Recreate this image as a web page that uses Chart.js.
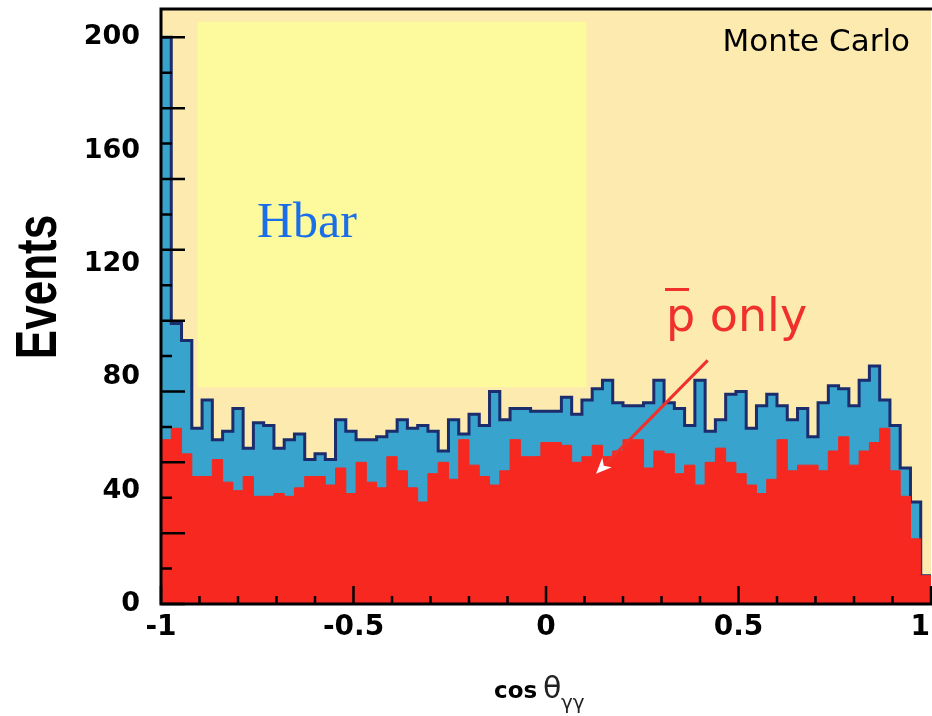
<!DOCTYPE html>
<html>
<head>
<meta charset="utf-8">
<script src="https://cdn.jsdelivr.net/npm/chart.js@4.4.1/dist/chart.umd.min.js"></script>
<style>
  html, body { margin: 0; padding: 0; background: #fff; }
  #wrap { width: 932px; height: 716px; }
</style>
</head>
<body>
<div id="wrap"><canvas id="histo" width="932" height="716"></canvas></div>
<script>
// cos(theta_gg) histogram binning
const binLow = -1;
const binHigh = 1;
const nBins = 75;

// all events (blue histogram with outline)
const allEvents = [
  200, 99, 93, 62, 72, 58, 61, 69, 55, 64,
  63, 55, 58, 60, 51, 53, 51, 65, 61, 58,
  58, 59, 61, 65, 62, 63, 61, 54, 65, 60,
  67, 63, 75, 65, 69, 69, 68, 68, 68, 73,
  67, 72, 76, 79, 71, 70, 70, 71, 79, 71,
  69, 63, 79, 61, 65, 74, 75, 62, 70, 74,
  70, 65, 69, 59, 71, 77, 76, 70, 79, 84,
  72, 63, 48, 36, 10
];

// pbar only (red histogram)
const pbarOnly = [
  58, 62, 53, 45, 45, 51, 43, 40, 45, 38,
  38, 39, 38, 41, 45, 45, 42, 48, 39, 50,
  43, 41, 52, 47, 41, 36, 46, 50, 44, 58,
  49, 45, 42, 47, 58, 52, 52, 57, 57, 56,
  50, 52, 56, 52, 54, 58, 58, 48, 54, 53,
  46, 49, 42, 50, 55, 50, 46, 42, 39, 44,
  58, 47, 49, 49, 47, 54, 59, 49, 54, 57,
  62, 47, 38, 23, 10
];

const xTicks = [-1, -0.5, 0, 0.5, 1];
const xTickLabels = ['-1', '-0.5', '0', '0.5', '1'];

// turn bin contents into step points (left edges + closing right edge)
function stepPoints(values) {
  const w = (binHigh - binLow) / nBins;
  const pts = values.map((v, i) => ({ x: binLow + i * w, y: v }));
  pts.push({ x: binHigh, y: values[values.length - 1] });
  return pts;
}

const decor = {
  id: 'decor',
  beforeDraw(chart) {
    const { ctx, chartArea: a, scales: { x, y } } = chart;
    ctx.save();
    ctx.fillStyle = '#fceaae';
    ctx.fillRect(a.left, a.top, a.right - a.left, a.bottom - a.top);
    // pale yellow Hbar box
    const bx0 = x.getPixelForValue(-0.905);
    const bx1 = x.getPixelForValue(0.105);
    const by0 = y.getPixelForValue(205.5);
    const by1 = y.getPixelForValue(76.5);
    ctx.fillStyle = '#fcfa9c';
    ctx.fillRect(bx0, by0, bx1 - bx0, by1 - by0);
    ctx.restore();
  },
  afterDraw(chart) {
    const { ctx, chartArea: a, scales: { x, y } } = chart;
    ctx.save();

    // inward tick marks
    ctx.strokeStyle = '#000';
    ctx.lineWidth = 2.5;
    ctx.beginPath();
    for (let k = 0; k <= 16; k++) {
      const py = y.getPixelForValue(k * 12.5);
      const len = k % 2 === 0 ? 24 : 11;
      ctx.moveTo(a.left, py);
      ctx.lineTo(a.left + len, py);
    }
    for (let k = -10; k <= 10; k++) {
      const px = x.getPixelForValue(k / 10);
      const len = k % 5 === 0 ? 18 : 8;
      ctx.moveTo(px, a.bottom);
      ctx.lineTo(px, a.bottom - len);
    }
    ctx.stroke();

    // frame
    ctx.lineWidth = 3;
    ctx.beginPath();
    ctx.moveTo(a.right + 2, a.top);
    ctx.lineTo(a.left, a.top);
    ctx.lineTo(a.left, a.bottom);
    ctx.lineTo(a.right + 2, a.bottom);
    ctx.stroke();

    // x tick labels
    ctx.fillStyle = '#000';
    ctx.font = 'bold 28px "DejaVu Sans"';
    ctx.textAlign = 'center';
    ctx.textBaseline = 'middle';
    xTicks.forEach((v, i) => {
      const w = ctx.measureText(xTickLabels[i]).width;
      const px = Math.min(x.getPixelForValue(v), chart.width - w / 2 - 2);
      ctx.fillText(xTickLabels[i], px, 628);
    });

    // axis titles
    ctx.save();
    ctx.translate(40, 287);
    ctx.rotate(-Math.PI / 2);
    ctx.scale(1, 1.3);
    ctx.font = 'bold 44px "Liberation Sans"';
    ctx.fillText('Events', 0, 0);
    ctx.restore();

    ctx.textAlign = 'left';
    ctx.textBaseline = 'alphabetic';
    ctx.font = 'bold 23px "DejaVu Sans"';
    ctx.fillText('cos', 494, 698);
    ctx.font = '30px "DejaVu Sans"';
    ctx.fillStyle = '#222';
    ctx.fillText('\u03b8', 543, 698);
    ctx.font = '20px "DejaVu Sans"';
    ctx.fillText('\u03b3\u03b3', 561, 709);

    // labels inside the plot
    ctx.fillStyle = '#000';
    ctx.font = '31px "DejaVu Sans"';
    ctx.textAlign = 'right';
    ctx.fillText('Monte Carlo', 910, 51);

    ctx.textAlign = 'left';
    ctx.fillStyle = '#1a6ee8';
    ctx.font = '50px "Liberation Serif"';
    ctx.fillText('Hbar', 257, 237);

    ctx.fillStyle = '#f0302a';
    ctx.font = '46px "DejaVu Sans"';
    ctx.fillText('p only', 666, 331);
    ctx.fillRect(665, 288, 24, 3);

    // arrow pointing at the pbar histogram
    const sx = x.getPixelForValue(0.42), sy = y.getPixelForValue(86);
    const tx = x.getPixelForValue(0.13), ty = y.getPixelForValue(46);
    ctx.strokeStyle = '#f0302a';
    ctx.lineWidth = 3;
    ctx.beginPath();
    ctx.moveTo(sx, sy);
    ctx.lineTo(tx + 8, ty - 8);
    ctx.stroke();
    const ang = Math.atan2(ty - sy, tx - sx);
    ctx.fillStyle = '#fff';
    ctx.beginPath();
    ctx.moveTo(tx, ty);
    ctx.lineTo(tx - 17 * Math.cos(ang - 0.4), ty - 17 * Math.sin(ang - 0.4));
    ctx.lineTo(tx - 11 * Math.cos(ang), ty - 11 * Math.sin(ang));
    ctx.lineTo(tx - 17 * Math.cos(ang + 0.4), ty - 17 * Math.sin(ang + 0.4));
    ctx.closePath();
    ctx.fill();

    ctx.restore();
  }
};

const chart = new Chart(document.getElementById('histo'), {
  type: 'line',
  data: {
    datasets: [
      {
        label: 'pbar only',
        data: stepPoints(pbarOnly),
        stepped: true,
        fill: 'origin',
        backgroundColor: '#f72820',
        borderColor: '#f72820',
        borderWidth: 1,
        pointRadius: 0
      },
      {
        label: 'Hbar',
        data: stepPoints(allEvents),
        stepped: true,
        fill: 'origin',
        backgroundColor: '#38a3cc',
        borderColor: '#1c2d6e',
        borderWidth: 3,
        pointRadius: 0
      }
    ]
  },
  options: {
    responsive: false,
    animation: false,
    layout: { padding: { top: 9, right: 1, bottom: 0, left: 0 } },
    plugins: {
      legend: { display: false },
      tooltip: { enabled: false }
    },
    scales: {
      x: {
        type: 'linear',
        min: binLow,
        max: binHigh,
        grid: { display: false },
        border: { display: false },
        ticks: { display: false },
        afterFit: (s) => { s.height = 112; s.paddingLeft = 0; s.paddingRight = 0; }
      },
      y: {
        min: 0,
        max: 210,
        grid: { display: false },
        border: { display: false },
        ticks: {
          stepSize: 40,
          includeBounds: false,
          padding: 13,
          color: '#000',
          font: { family: 'DejaVu Sans', size: 27, weight: 'bold' }
        },
        afterFit: (s) => { s.width = 161; s.paddingTop = 0; s.paddingBottom = 0; }
      }
    }
  },
  plugins: [decor]
});
</script>
</body>
</html>
